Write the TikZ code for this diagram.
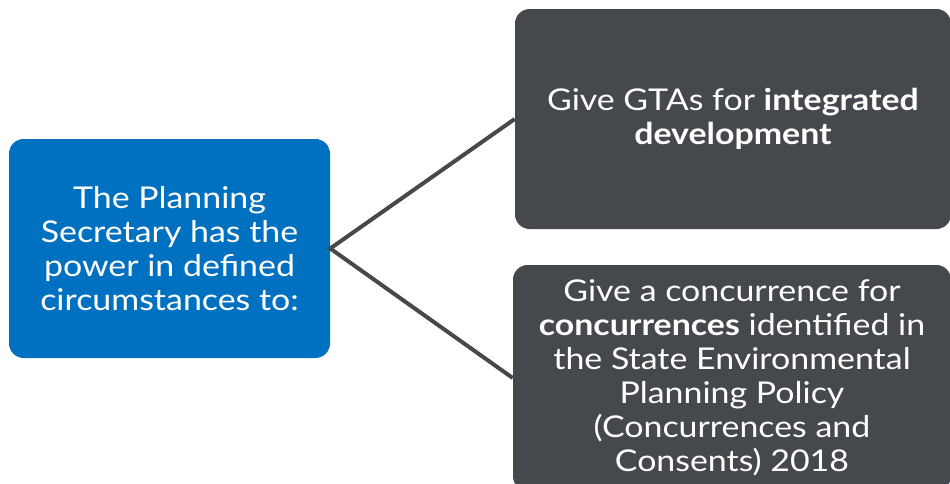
\documentclass[tikz,border=0pt]{standalone}
\usepackage{fontspec}
\setmainfont[FakeStretch=1.13]{Lato}
\definecolor{secblue}{RGB}{0, 112, 192}
\definecolor{powgrey}{RGB}{69, 73, 77}
\usetikzlibrary{positioning}

\begin{document}
\begin{tikzpicture}[
  x=0.75pt, y=-0.75pt,
  pbox/.style={rounded corners=11pt, align=center, inner sep=0pt, text=white,
    font=\fontsize{22.5}{25.5}\selectfont},
  link/.style={draw=powgrey, line width=3pt}
]
  \useasboundingbox (0,0) rectangle (950,483);
  \node[pbox, fill=secblue, minimum width=240.75pt, minimum height=164.25pt] (secretary) at (169.5, 248.5)
    {The Planning\\Secretary has the\\power in defined\\circumstances to:};
  \node[pbox, fill=powgrey, minimum width=327pt, minimum height=165pt] (gta) at (733, 119)
    {Give GTAs for \textbf{integrated}\\\textbf{development}};
  \node[pbox, fill=powgrey, minimum width=328.5pt, minimum height=169.5pt] (concur) at (732, 378)
    {Give a concurrence for\\\textbf{concurrences} identified in\\the State Environmental\\Planning Policy\\(Concurrences and\\Consents) 2018};
  \draw[link] (gta.west) -- (secretary.east) -- (concur.west);
\end{tikzpicture}
\end{document}
